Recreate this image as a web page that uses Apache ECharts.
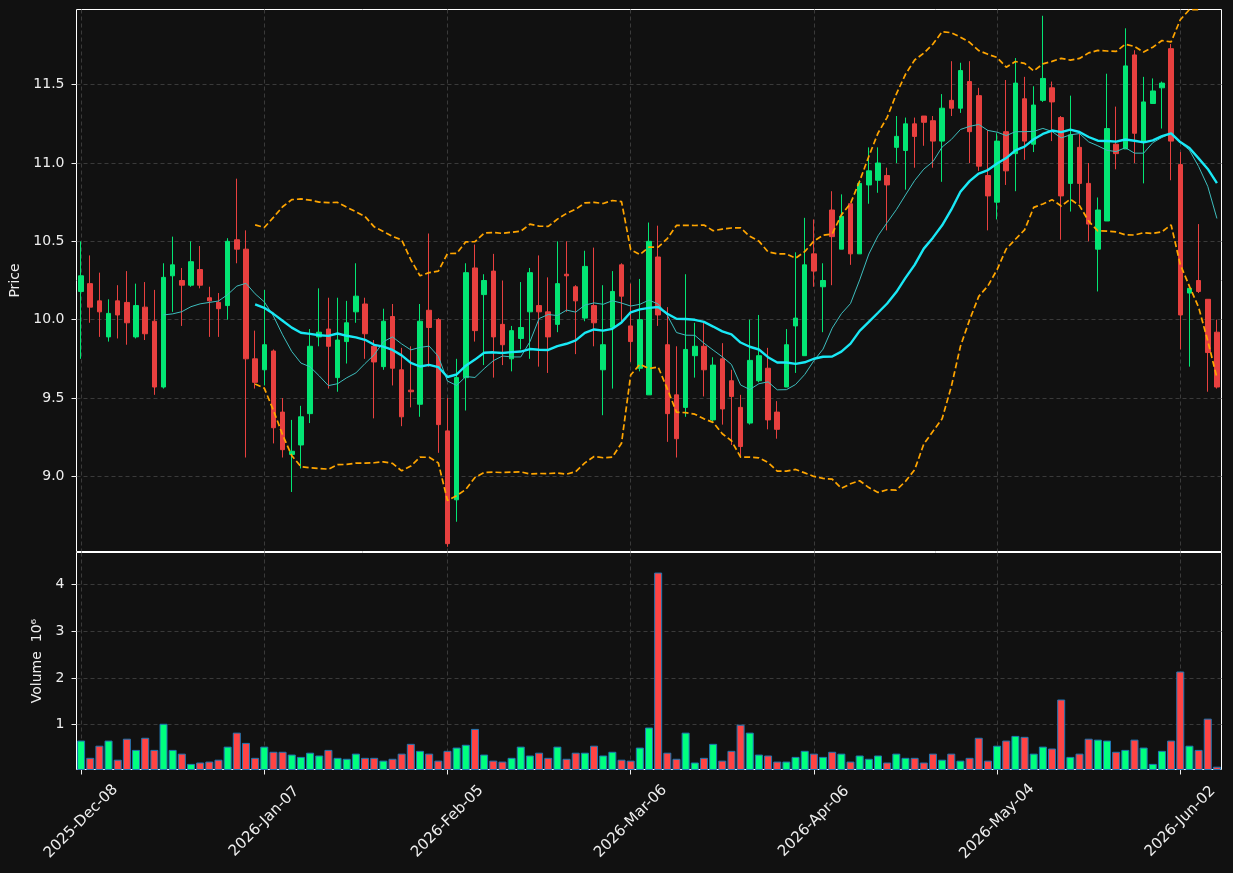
<!DOCTYPE html>
<html>
<head>
<meta charset="utf-8">
<script src="https://cdn.jsdelivr.net/npm/echarts@6/dist/echarts.min.js"></script>
<style>
  html, body { margin: 0; padding: 0; background: #111111; }
  #chart { width: 1233px; height: 873px; }
</style>
</head>
<body>
<div id="chart"></div>
<script>
// trading days (NYSE calendar), one per candle
const dates = [
  '2025-Dec-08','2025-Dec-09','2025-Dec-10','2025-Dec-11','2025-Dec-12','2025-Dec-15','2025-Dec-16','2025-Dec-17','2025-Dec-18','2025-Dec-19',
  '2025-Dec-22','2025-Dec-23','2025-Dec-24','2025-Dec-26','2025-Dec-29','2025-Dec-30','2025-Dec-31','2026-Jan-02','2026-Jan-05','2026-Jan-06',
  '2026-Jan-07','2026-Jan-08','2026-Jan-09','2026-Jan-12','2026-Jan-13','2026-Jan-14','2026-Jan-15','2026-Jan-16','2026-Jan-20','2026-Jan-21',
  '2026-Jan-22','2026-Jan-23','2026-Jan-26','2026-Jan-27','2026-Jan-28','2026-Jan-29','2026-Jan-30','2026-Feb-02','2026-Feb-03','2026-Feb-04',
  '2026-Feb-05','2026-Feb-06','2026-Feb-09','2026-Feb-10','2026-Feb-11','2026-Feb-12','2026-Feb-13','2026-Feb-17','2026-Feb-18','2026-Feb-19',
  '2026-Feb-20','2026-Feb-23','2026-Feb-24','2026-Feb-25','2026-Feb-26','2026-Feb-27','2026-Mar-02','2026-Mar-03','2026-Mar-04','2026-Mar-05',
  '2026-Mar-06','2026-Mar-09','2026-Mar-10','2026-Mar-11','2026-Mar-12','2026-Mar-13','2026-Mar-16','2026-Mar-17','2026-Mar-18','2026-Mar-19',
  '2026-Mar-20','2026-Mar-23','2026-Mar-24','2026-Mar-25','2026-Mar-26','2026-Mar-27','2026-Mar-30','2026-Mar-31','2026-Apr-01','2026-Apr-02',
  '2026-Apr-06','2026-Apr-07','2026-Apr-08','2026-Apr-09','2026-Apr-10','2026-Apr-13','2026-Apr-14','2026-Apr-15','2026-Apr-16','2026-Apr-17',
  '2026-Apr-20','2026-Apr-21','2026-Apr-22','2026-Apr-23','2026-Apr-24','2026-Apr-27','2026-Apr-28','2026-Apr-29','2026-Apr-30','2026-May-01',
  '2026-May-04','2026-May-05','2026-May-06','2026-May-07','2026-May-08','2026-May-11','2026-May-12','2026-May-13','2026-May-14','2026-May-15',
  '2026-May-18','2026-May-19','2026-May-20','2026-May-21','2026-May-22','2026-May-26','2026-May-27','2026-May-28','2026-May-29','2026-Jun-01',
  '2026-Jun-02','2026-Jun-03','2026-Jun-04','2026-Jun-05','2026-Jun-08'
]

const opens = [
  10.18,10.23,10.12,9.89,10.12,10.11,9.89,10.08,9.99,9.57,
  10.28,10.25,10.22,10.32,10.14,10.11,10.09,10.51,10.45,9.75,
  9.68,9.80,9.41,9.14,9.20,9.40,9.89,9.94,9.63,9.86,
  10.05,10.10,9.83,9.70,10.02,9.68,9.55,9.46,10.06,10.00,
  9.29,8.85,9.63,10.33,10.16,10.31,9.97,9.75,9.88,10.05,
  10.09,10.05,9.97,10.29,10.21,10.01,10.09,9.68,9.95,10.35,
  9.96,9.69,9.52,10.40,9.84,9.52,9.44,9.77,9.83,9.36,
  9.75,9.61,9.44,9.34,9.61,9.69,9.41,9.57,9.96,9.77,
  10.42,10.21,10.70,10.45,10.74,10.42,10.86,10.89,10.92,11.10,
  11.08,11.25,11.30,11.27,11.14,11.40,11.35,11.52,11.43,10.92,
  10.75,11.20,11.06,11.41,11.12,11.40,11.48,11.29,10.87,11.10,
  10.87,10.45,10.63,11.12,11.09,11.69,11.14,11.38,11.48,11.73,
  10.99,10.17,10.25,10.13,9.92
]

const closes = [
  10.28,10.08,10.05,10.04,10.03,9.98,10.09,9.91,9.57,10.27,
  10.35,10.22,10.37,10.22,10.12,10.07,10.50,10.45,9.75,9.60,
  9.84,9.31,9.17,9.16,9.38,9.83,9.92,9.83,9.87,9.98,
  10.15,9.91,9.73,9.99,9.69,9.38,9.54,9.99,9.95,9.33,
  8.57,9.63,10.30,9.93,10.25,9.89,9.84,9.93,9.95,10.30,
  10.05,9.89,10.23,10.28,10.12,10.34,9.98,9.84,10.18,10.15,
  9.86,10.00,10.50,10.03,9.40,9.24,9.81,9.83,9.68,9.71,
  9.43,9.51,9.19,9.74,9.77,9.36,9.30,9.84,10.01,10.35,
  10.31,10.25,10.53,10.66,10.42,10.87,10.95,11.00,10.86,11.17,
  11.25,11.17,11.26,11.14,11.35,11.35,11.59,11.20,10.98,10.79,
  11.14,10.95,11.51,11.14,11.37,11.54,11.39,10.79,11.18,10.87,
  10.61,10.70,11.22,11.06,11.62,11.19,11.39,11.46,11.51,11.14,
  10.03,10.20,10.18,9.79,9.57
]

const lows = [
  9.75,9.98,9.89,9.86,9.88,9.84,9.88,9.87,9.52,9.56,
  10.05,9.96,10.21,10.20,9.89,9.89,10.00,10.36,9.12,9.56,
  9.58,9.21,9.12,8.90,9.05,9.34,9.83,9.56,9.54,9.72,
  9.98,9.75,9.37,9.68,9.58,9.32,9.44,9.38,9.70,9.15,
  8.55,8.71,9.42,9.86,9.71,9.63,9.71,9.67,9.81,9.75,
  9.70,9.66,9.92,10.05,9.78,9.99,9.83,9.39,9.56,9.98,
  9.73,9.67,9.52,9.96,9.22,9.12,9.38,9.63,9.51,9.35,
  9.33,9.20,9.12,9.33,9.60,9.30,9.24,9.57,9.66,9.77,
  10.21,9.92,10.22,10.45,10.35,10.42,10.74,10.81,10.57,11.00,
  10.83,10.97,11.11,10.97,10.88,11.30,11.32,11.00,10.95,10.57,
  10.64,10.86,10.82,11.02,11.07,11.39,11.14,10.51,10.69,10.74,
  10.50,10.18,10.63,10.96,11.09,11.00,10.87,11.38,11.22,10.89,
  9.81,9.70,10.17,9.54,9.56
]

const highs = [
  10.50,10.41,10.30,10.13,10.22,10.31,10.23,10.24,10.19,10.36,
  10.53,10.33,10.50,10.47,10.21,10.17,10.52,10.90,10.57,9.93,
  10.19,9.81,9.50,9.36,9.45,9.94,10.20,10.14,10.14,10.12,
  10.36,10.14,9.87,10.07,10.10,9.82,9.83,10.10,10.55,10.01,
  9.50,9.75,10.36,10.48,10.29,10.42,10.25,9.96,10.24,10.33,
  10.41,10.27,10.50,10.50,10.22,10.44,10.46,10.22,10.31,10.36,
  10.23,10.26,10.62,10.60,10.08,9.83,10.29,9.98,9.98,9.76,
  9.85,9.68,9.52,10.00,10.03,9.82,9.48,9.94,10.43,10.65,
  10.64,10.36,10.82,10.80,10.74,10.89,11.10,11.10,10.97,11.30,
  11.29,11.29,11.30,11.30,11.44,11.65,11.64,11.65,11.48,11.21,
  11.19,11.53,11.67,11.55,11.49,11.94,11.52,11.30,11.43,11.19,
  11.00,10.78,11.57,11.36,11.86,11.72,11.55,11.54,11.52,11.76,
  11.07,10.21,10.61,10.13,10.00
]

// volume in millions
const volumes = [
  0.66,0.29,0.55,0.66,0.25,0.70,0.46,0.72,0.46,1.02,
  0.46,0.38,0.16,0.19,0.21,0.25,0.53,0.83,0.61,0.29,
  0.53,0.42,0.42,0.36,0.31,0.40,0.34,0.46,0.29,0.27,
  0.38,0.29,0.29,0.23,0.27,0.38,0.59,0.44,0.38,0.23,
  0.44,0.51,0.57,0.91,0.36,0.23,0.21,0.29,0.53,0.34,
  0.40,0.29,0.53,0.27,0.40,0.40,0.55,0.34,0.42,0.25,
  0.23,0.51,0.94,4.26,0.40,0.27,0.83,0.19,0.29,0.59,
  0.23,0.44,1.00,0.83,0.36,0.34,0.21,0.21,0.31,0.44,
  0.38,0.31,0.42,0.38,0.21,0.34,0.27,0.34,0.19,0.38,
  0.29,0.29,0.19,0.38,0.25,0.38,0.23,0.29,0.72,0.23,
  0.55,0.66,0.76,0.74,0.38,0.53,0.49,1.54,0.31,0.38,
  0.70,0.68,0.66,0.42,0.46,0.68,0.51,0.16,0.44,0.66,
  2.14,0.55,0.46,1.13,0.10
]

const priceTicks = [9.0, 9.5, 10.0, 10.5, 11.0, 11.5]
const volumeTicks = [1, 2, 3, 4]

const upColor = '#03e574'
const downColor = '#e8403f'
const volUp = '#00ff7f'
const volDown = '#ff4444'
const textColor = '#eeeeee'
const gridLine = { color: '#3a3a3a', width: 1, type: [4, 3] }

// indicators derived from the closes read above
function rolling(src, n, fn) {
  return src.map((v, i) => i < n - 1 ? '-' : fn(src.slice(i - n + 1, i + 1)))
}
const mean = (a) => a.reduce((s, v) => s + v, 0) / a.length
const sdev = (a) => {
  const m = mean(a)
  return Math.sqrt(a.reduce((s, v) => s + (v - m) * (v - m), 0) / (a.length - 1))
}
const ma10 = rolling(closes, 10, mean)
const ma20 = rolling(closes, 20, mean)
const sd20 = rolling(closes, 20, sdev)
const bbUpper = ma20.map((m, i) => m === '-' ? '-' : m + 2 * sd20[i])
const bbLower = ma20.map((m, i) => m === '-' ? '-' : m - 2 * sd20[i])

const candleData = dates.map((d, i) => [opens[i], closes[i], lows[i], highs[i]])
const volumeData = volumes.map((v, i) => ({
  value: v,
  itemStyle: { color: closes[i] >= opens[i] ? volUp : volDown }
}))

const every20 = (idx) => idx % 20 === 0

var myChart = echarts.init(document.getElementById('chart'))

const option = {
  animation: false,
  backgroundColor: '#111111',
  textStyle: { fontFamily: 'DejaVu Sans' },
  grid: [
    { left: 76.5, top: 9.5, width: 1145, height: 542, show: true, borderColor: '#ffffff', borderWidth: 1, containLabel: false, outerBoundsMode: 'none' },
    { left: 76.5, top: 552.5, width: 1145, height: 217, show: true, borderColor: '#ffffff', borderWidth: 1, containLabel: false, outerBoundsMode: 'none' }
  ],
  xAxis: [
    {
      gridIndex: 0,
      type: 'category',
      data: dates,
      boundaryGap: true,
      axisLine: { show: false },
      axisTick: { show: false },
      axisLabel: { show: false },
      splitLine: { show: true, interval: every20, alignWithLabel: true, lineStyle: gridLine }
    },
    {
      gridIndex: 1,
      type: 'category',
      data: dates,
      boundaryGap: true,
      axisLine: { show: false },
      axisTick: { show: true, interval: every20, alignWithLabel: true, length: 5, lineStyle: { color: textColor } },
      axisLabel: {
        interval: every20,
        rotate: 45,
        align: 'center',
        verticalAlign: 'middle',
        margin: 52,
        color: textColor,
        fontSize: 15,
        fontFamily: 'DejaVu Sans'
      },
      splitLine: { show: true, interval: every20, alignWithLabel: true, lineStyle: gridLine }
    }
  ],
  yAxis: [
    {
      gridIndex: 0,
      type: 'value',
      min: 8.52,
      max: 11.98,
      name: 'Price',
      nameLocation: 'middle',
      nameGap: 52,
      nameRotate: 90,
      nameTextStyle: { color: textColor, fontSize: 14, fontFamily: 'DejaVu Sans' },
      axisLine: { show: false },
      axisTick: { show: true, length: 5, customValues: priceTicks, lineStyle: { color: textColor } },
      axisLabel: {
        customValues: priceTicks,
        formatter: (v) => v.toFixed(1),
        margin: 12,
        color: textColor,
        fontSize: 14,
        fontFamily: 'DejaVu Sans'
      },
      splitLine: { show: true, lineStyle: gridLine }
    },
    {
      gridIndex: 1,
      type: 'value',
      min: 0.04,
      max: 4.69,
      name: 'Volume  10\u2076',
      nameLocation: 'middle',
      nameGap: 31,
      nameRotate: 90,
      nameTextStyle: { color: textColor, fontSize: 14, fontFamily: 'DejaVu Sans' },
      axisLine: { show: false },
      axisTick: { show: true, length: 5, customValues: volumeTicks, lineStyle: { color: textColor } },
      axisLabel: {
        customValues: volumeTicks,
        margin: 12,
        color: textColor,
        fontSize: 14,
        fontFamily: 'DejaVu Sans'
      },
      splitLine: { show: true, lineStyle: gridLine }
    }
  ],
  series: [
    {
      name: 'OHLC',
      type: 'candlestick',
      xAxisIndex: 0,
      yAxisIndex: 0,
      data: candleData,
      barWidth: 5,
      itemStyle: {
        color: upColor,
        color0: downColor,
        borderColor: upColor,
        borderColor0: downColor,
        borderWidth: 1
      },
      z: 2
    },
    {
      name: 'MA10',
      type: 'line',
      xAxisIndex: 0,
      yAxisIndex: 0,
      data: ma10,
      symbol: 'none',
      lineStyle: { color: '#3dbdbd', width: 1 },
      z: 3
    },
    {
      name: 'MA20',
      type: 'line',
      xAxisIndex: 0,
      yAxisIndex: 0,
      data: ma20,
      symbol: 'none',
      lineStyle: { color: '#19e8f5', width: 2.4 },
      z: 4
    },
    {
      name: 'BB upper',
      type: 'line',
      xAxisIndex: 0,
      yAxisIndex: 0,
      data: bbUpper,
      symbol: 'none',
      clip: true,
      lineStyle: { color: '#ffa500', width: 1.7, type: [6, 3] },
      z: 5
    },
    {
      name: 'BB lower',
      type: 'line',
      xAxisIndex: 0,
      yAxisIndex: 0,
      data: bbLower,
      symbol: 'none',
      clip: true,
      lineStyle: { color: '#ffa500', width: 1.7, type: [6, 3] },
      z: 5
    },
    {
      name: 'Volume',
      type: 'bar',
      xAxisIndex: 1,
      yAxisIndex: 1,
      data: volumeData,
      barWidth: 8,
      itemStyle: { borderColor: '#1f77b4', borderWidth: 1 }
    }
  ]
}

myChart.setOption(option)
</script>
</body>
</html>
